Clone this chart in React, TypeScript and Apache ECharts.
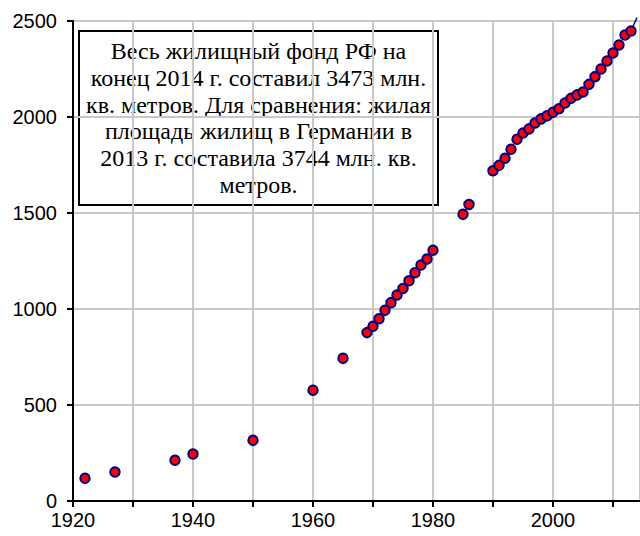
import React, { useEffect, useRef } from "react";
import * as echarts from "echarts";

const years = [1922, 1927, 1937, 1940, 1950, 1960, 1965, 1969, 1970, 1971, 1972, 1973, 1974, 1975, 1976, 1977, 1978, 1979, 1980, 1985, 1986, 1990, 1991, 1992, 1993, 1994, 1995, 1996, 1997, 1998, 1999, 2000, 2001, 2002, 2003, 2004, 2005, 2006, 2007, 2008, 2009, 2010, 2011, 2012, 2013];
const areas = [118, 151, 212, 245, 316, 577, 743, 877, 910, 949, 993, 1033, 1073, 1107, 1147, 1189, 1229, 1260, 1306, 1493, 1544, 1720, 1748, 1785, 1832, 1884, 1917, 1938, 1969, 1990, 2006, 2025, 2043, 2073, 2097, 2115, 2130, 2170, 2210, 2250, 2292, 2333, 2375, 2427, 2448];
const trendYears = [2013, 2014];
const trendValues = [2448, 2518];
const noteLines = [
  "Весь жилищный фонд РФ на",
  "конец 2014 г. составил 3473 млн.",
  "кв. метров. Для сравнения: жилая",
  "площадь жилищ в Германии в",
  "2013 г. составила 3744 млн. кв.",
  "метров.",
];

export default function App() {
  const ref = useRef<HTMLDivElement>(null);
  useEffect(() => {
    if (!ref.current) return;
    const chart = echarts.init(ref.current, null, { renderer: "svg" });
    chart.setOption({
      animation: false,
      backgroundColor: "#ffffff",
      grid: { left: 73, top: 21, right: 0, bottom: 35, containLabel: false },
      xAxis: {
        type: "value",
        min: 1920,
        max: 2014.5,
        interval: 10,
        axisLine: { show: true, lineStyle: { color: "#000", width: 2 } },
        axisTick: { show: true, length: 6, lineStyle: { color: "#000", width: 2 } },
        axisLabel: {
          color: "#000",
          fontFamily: "Liberation Sans",
          fontSize: 20,
          margin: 9,
          showMaxLabel: false,
          formatter: (v: number) => (v % 20 === 0 ? String(v) : ""),
        },
        splitLine: { show: true, lineStyle: { color: "#c8c8c8", width: 2 } },
      },
      yAxis: {
        type: "value",
        min: 0,
        max: 2500,
        interval: 500,
        axisLine: { show: true, lineStyle: { color: "#000", width: 2 } },
        axisTick: { show: true, length: 6, lineStyle: { color: "#000", width: 2 } },
        axisLabel: {
          color: "#000",
          fontFamily: "Liberation Sans",
          fontSize: 20,
          margin: 16,
          formatter: (v: number) => String(v),
        },
        splitLine: { show: true, lineStyle: { color: "#c8c8c8", width: 2 } },
      },
      graphic: [
        {
          type: "group",
          z: 100,
          children: [
            {
              type: "rect",
              shape: { x: 79, y: 31, width: 359, height: 174 },
              style: { fill: "#ffffff", stroke: "#000", lineWidth: 2 },
            },
            {
              type: "text",
              x: 258.5,
              y: 118,
              style: {
                text: noteLines.join("\n"),
                fill: "#000",
                font: '24px "Liberation Serif"',
                textAlign: "center",
                textVerticalAlign: "middle",
                lineHeight: 26.7,
              },
            },
          ],
        },
      ],
      series: [
        {
          type: "line",
          data: trendYears.map((y, i) => [y, trendValues[i]]),
          showSymbol: false,
          symbol: "none",
          clip: false,
          lineStyle: { color: "#000080", width: 1.5 },
          z: 1,
        },
        {
          type: "scatter",
          data: years.map((y, i) => [y, areas[i]]),
          symbol: "circle",
          symbolSize: 9.5,
          clip: false,
          itemStyle: { color: "#ff0000", borderColor: "#000080", borderWidth: 2, opacity: 1 },
          z: 3,
        },
      ],
    });
    return () => chart.dispose();
  }, []);
  return <div ref={ref} style={{ width: 640, height: 536, position: "absolute", left: 0, top: 0 }} />;
}
